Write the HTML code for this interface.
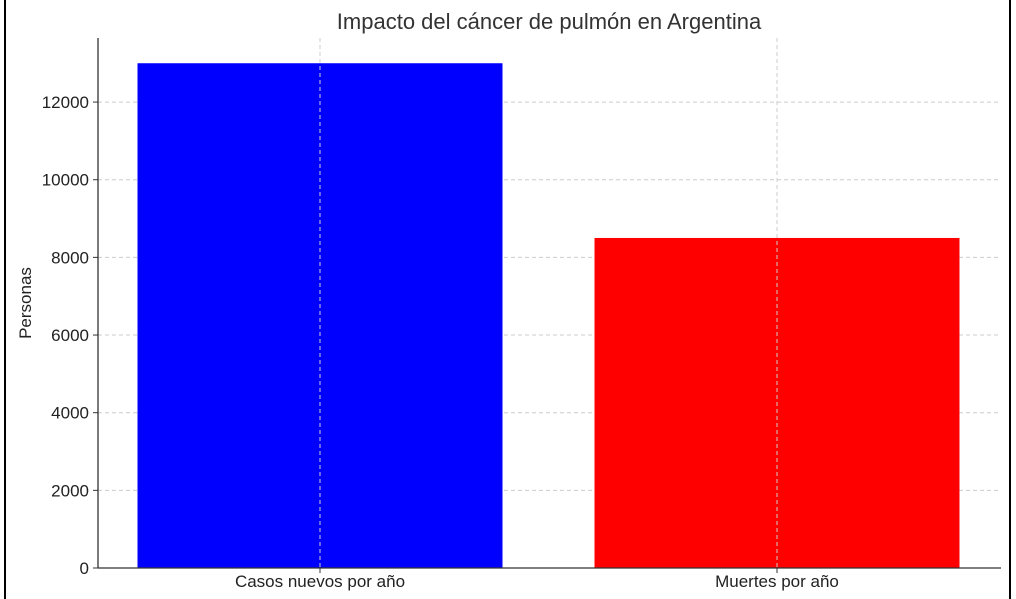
<!DOCTYPE html>
<html><head><meta charset="utf-8"><style>
html,body{margin:0;padding:0;background:#fff;}
svg{display:block;font-family:"Liberation Sans","DejaVu Sans",sans-serif;}
</style></head><body>
<svg id="chart" width="1016" height="599">
<line x1="5" y1="0" x2="5" y2="599" stroke="#000" stroke-width="2"/>
<line x1="1010" y1="0" x2="1010" y2="599" stroke="#000" stroke-width="2"/>
<text x="549" y="29" text-anchor="middle" font-size="22" fill="#333">Impacto del cáncer de pulmón en Argentina</text>
<text transform="translate(31,303) rotate(-90)" text-anchor="middle" font-size="17" fill="#222">Personas</text>
<g id="grid"></g><g id="bars"></g><g id="axes"></g>
</svg>
<script>
const categories = ["Casos nuevos por año", "Muertes por año"];
const values = [13000, 8500];
const colors = ["#0000ff", "#ff0000"];
const yTicks = [0, 2000, 4000, 6000, 8000, 10000, 12000];
const NS = "http://www.w3.org/2000/svg";
const plotLeft = 98, plotRight = 1001, plotTop = 38, plotBottom = 568;
const yMax = 13650;
function yScale(v){ return plotBottom - v/yMax*(plotBottom-plotTop); }
function xCenter(i){ return 320 + i*(777-320); }
const barW = 365;
function mk(tag, attrs, parent){ const e=document.createElementNS(NS,tag); for(const k in attrs) e.setAttribute(k,attrs[k]); parent.appendChild(e); return e; }
const gridG=document.getElementById('grid'), barsG=document.getElementById('bars'), axesG=document.getElementById('axes');
yTicks.forEach(t=>{
  if(t>0){
    const g=mk('line',{x1:plotLeft,x2:plotRight,y1:yScale(t),y2:yScale(t),stroke:'#ccc','stroke-dasharray':'4,3','stroke-width':1},gridG);
    
    
  }
  const tk=mk('line',{x1:plotLeft-5,x2:plotLeft,y1:yScale(t),y2:yScale(t),stroke:'#333'},axesG);
  
  
  const tx=mk('text',{x:plotLeft-9,y:yScale(t)+6,'text-anchor':'end','font-size':'17',fill:'#222'},axesG);
  tx.textContent=t;
  
  
});
categories.forEach((c,i)=>{
  const cx=xCenter(i);
  const b=mk('rect',{x:cx-barW/2,y:yScale(values[i]),width:barW,height:plotBottom-yScale(values[i]),fill:colors[i]},barsG);
  
  
  const gl=mk('line',{x1:cx,x2:cx,y1:plotTop,y2:plotBottom,stroke:'#ccc','stroke-dasharray':'4,3'},axesG);
  
  
  const tk=mk('line',{x1:cx,x2:cx,y1:plotBottom,y2:plotBottom+5,stroke:'#333'},axesG);
  
  
  const tx=mk('text',{x:cx,y:plotBottom+19,'text-anchor':'middle','font-size':'17',fill:'#222'},axesG);
  tx.textContent=c;
  
  
});
const ya=mk('line',{x1:plotLeft,x2:plotLeft,y1:plotTop,y2:plotBottom,stroke:'#333','stroke-width':1.3},axesG);


const xa=mk('line',{x1:plotLeft,x2:plotRight,y1:plotBottom,y2:plotBottom,stroke:'#333','stroke-width':1.3},axesG);


</script>
</body></html>
